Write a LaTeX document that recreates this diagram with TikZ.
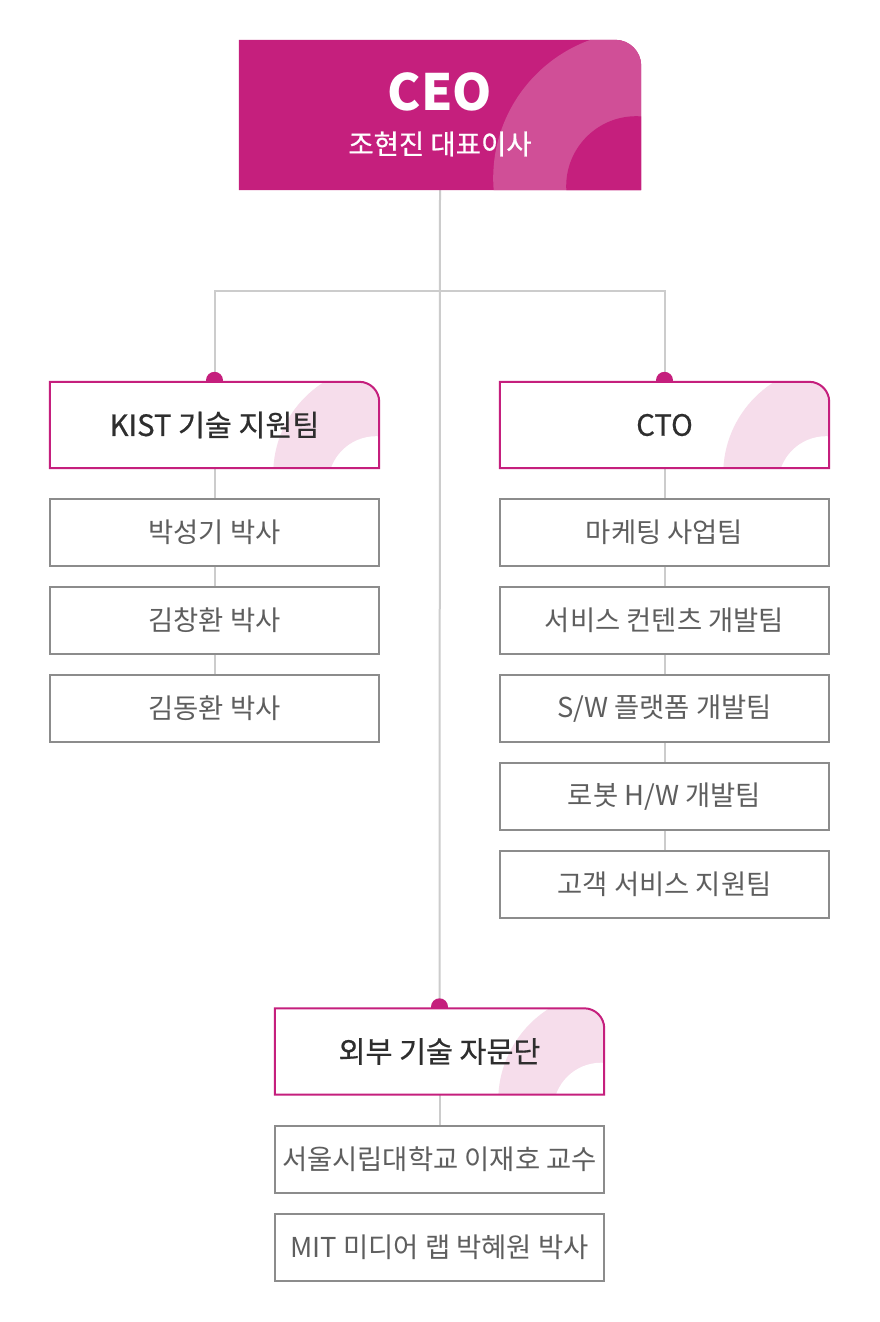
\documentclass[tikz,border=0pt]{standalone}
\usepackage{fontspec}
\setmainfont{Noto Sans CJK KR}
\newfontfamily\krfont{Noto Sans CJK KR}
\newfontfamily\krmed[FakeBold=0.6]{Noto Sans CJK KR}
\definecolor{mag}{HTML}{C51F7D}
\definecolor{magl}{HTML}{D04F97}
\definecolor{pinkd}{HTML}{F6DDEB}
\definecolor{lnk}{HTML}{CCCCCC}
\definecolor{cbd}{HTML}{8C8C8C}
\definecolor{ctx}{HTML}{5E5E5E}
\definecolor{htx}{HTML}{2E2E2E}
\pgfdeclarelayer{bg}
\pgfsetlayers{bg,main}
\newcommand\HdrPath[2]{(#1.south west) -- (#1.north west) -- ([xshift=-#2]#1.north east) arc[start angle=90,end angle=0,radius=#2] -- (#1.south east) -- cycle}
\newcommand\HdrBox[1]{%
  \fill[white] \HdrPath{#1}{20};
  \begin{scope}
    \clip \HdrPath{#1}{20};
    \fill[pinkd] ([shift={(3,-6)}]#1.south east) circle (109);
    \fill[white] ([shift={(-3,-16)}]#1.south east) circle (48);
  \end{scope}
  \draw[mag, line width=2pt] \HdrPath{#1}{20};
}
\begin{document}
\begin{tikzpicture}[x=1pt,y=1pt,
  hdr/.style={minimum width=329pt, minimum height=86pt, inner sep=0pt, font=\krmed\fontsize{29.3}{31}\selectfont, text=htx},
  kid/.style={draw=cbd, line width=1.2pt, fill=white, minimum width=329pt, minimum height=67pt, inner sep=0pt, font=\krfont\fontsize{27.4}{29}\selectfont, text=ctx},
  conn/.style={draw=lnk, line width=2pt},
  dotmark/.style={fill=mag},
]
\useasboundingbox (0,0) rectangle (880,-1322);

% CEO
\node[minimum width=402pt, minimum height=150pt, inner sep=0pt] (ceo) at (440,-115) {};
\node[anchor=base, text=white, font=\krfont\bfseries\fontsize{50}{54}\selectfont] (ceoT) at (440,-110) {CEO};
\node[text=white, font=\krmed\fontsize{27.5}{29}\selectfont] (ceoS) at (440,-144) {조현진 대표이사};

% headers
\node[hdr] (kist) at (214.5,-425) {KIST 기술 지원팀};
\node[hdr] (cto) at (664.5,-425) {CTO};
\node[hdr] (ext) at (439.5,-1051.5) {외부 기술 자문단};

% KIST children
\node[kid] (k1) at (214.5,-532.5) {박성기 박사};
\node[kid] (k2) at (214.5,-620.5) {김창환 박사};
\node[kid] (k3) at (214.5,-708.5) {김동환 박사};

% CTO children
\node[kid] (c1) at (664.5,-532.5) {마케팅 사업팀};
\node[kid] (c2) at (664.5,-620.5) {서비스 컨텐츠 개발팀};
\node[kid] (c3) at (664.5,-708.5) {S/W 플랫폼 개발팀};
\node[kid] (c4) at (664.5,-796.5) {로봇 H/W 개발팀};
\node[kid] (c5) at (664.5,-884.5) {고객 서비스 지원팀};

% external children
\node[kid] (e1) at (439.5,-1159.5) {서울시립대학교 이재호 교수};
\node[kid] (e2) at (439.5,-1247.5) {MIT 미디어 랩 박혜원 박사};

\coordinate (hy) at (440,-291);

\begin{pgfonlayer}{bg}
  \fill[white] (0,0) rectangle (880,-1322);
  % connectors
  \draw[conn] (ceo.south) -- (ext.north);
  \draw[conn] (kist.north) |- (hy) -| (cto.north);
  \draw[conn] (kist.south) -- (k1.north) (k1.south) -- (k2.north) (k2.south) -- (k3.north);
  \draw[conn] (cto.south) -- (c1.north) (c1.south) -- (c2.north) (c2.south) -- (c3.north)
              (c3.south) -- (c4.north) (c4.south) -- (c5.north);
  \draw[conn] (ext.south) -- (e1.north);
  % dots
  \fill[dotmark] ([yshift=1.5]kist.north) circle (8.5);
  \fill[dotmark] ([yshift=1.5]cto.north) circle (8.5);
  \fill[dotmark] ([yshift=1.5]ext.north) circle (8.5);
  % CEO box
  \fill[mag] \HdrPath{ceo}{26};
  \begin{scope}
    \clip \HdrPath{ceo}{26};
    \fill[magl] ([shift={(-1,12)}]ceo.south east) circle (147);
    \fill[mag] ([shift={(-5,4)}]ceo.south east) circle (70);
  \end{scope}
  % header boxes
  \HdrBox{kist}
  \HdrBox{cto}
  \HdrBox{ext}
\end{pgfonlayer}
\end{tikzpicture}
\end{document}
